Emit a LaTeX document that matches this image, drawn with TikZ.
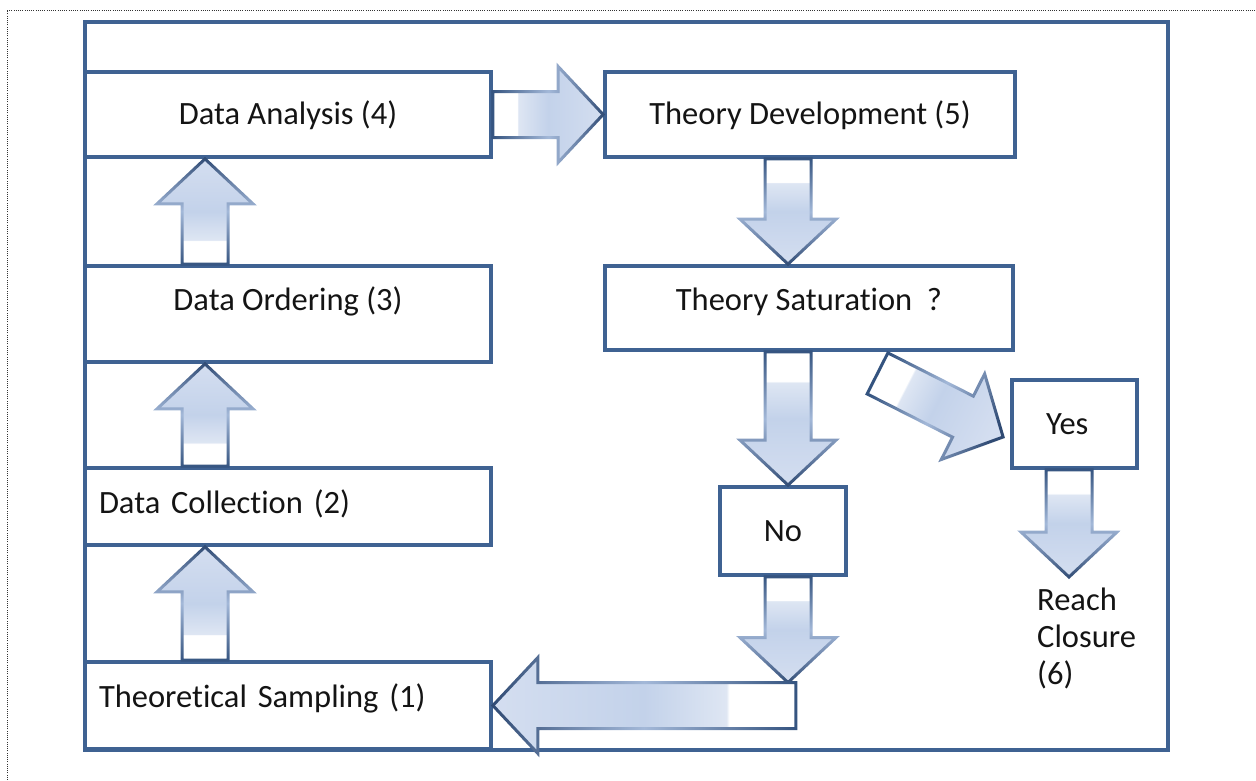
\documentclass[tikz,border=0pt]{standalone}
\usepackage{fontspec}
\setmainfont{Carlito}[Ligatures={NoCommon,NoContextual}, Contextuals=NoAlternate]
\usetikzlibrary{calc}

\definecolor{frameblue}{HTML}{3F6292}
\definecolor{fillA}{HTML}{DEE6F3}
\definecolor{fillB}{HTML}{C3D2EA}
\definecolor{fillC}{HTML}{D4DEF0}
\definecolor{edgeDark}{HTML}{34537F}
\definecolor{edgeLight}{HTML}{A3B8D8}
\definecolor{edgeMid}{HTML}{7088AD}
\definecolor{edgeTip}{HTML}{2F4A73}
\definecolor{textgray}{HTML}{141414}
\definecolor{dotgray}{HTML}{333333}

% gradients along a block arrow, tail (25bp) to tip (75bp)
\pgfdeclarehorizontalshading{arrowfill}{100bp}{color(0bp)=(white); color(25bp)=(white); color(36bp)=(white); color(36.5bp)=(fillA); color(50bp)=(fillB); color(75bp)=(fillC); color(100bp)=(fillC)}
\pgfdeclarehorizontalshading{arrowedge}{100bp}{color(0bp)=(edgeDark); color(25bp)=(edgeDark); color(50bp)=(edgeLight); color(62bp)=(edgeMid); color(75bp)=(edgeTip); color(100bp)=(edgeTip)}

% outline of a block arrow from #1 (tail) to #2 (tip):
% #3 shaft half width, #4 head half width, #5 head length,
% #6 tail offset, #7 tip offset (measured back from the tip)
\newcommand\apoly[7]{($(#1)!#6!(#2)!#3!90:(#2)$) -- ($(#2)!#5!(#1)!#3!-90:(#1)$) -- ($(#2)!#5!(#1)!#4!-90:(#1)$) -- ($(#2)!#7!(#1)$) -- ($(#2)!#5!(#1)!#4!90:(#1)$) -- ($(#2)!#5!(#1)!#3!90:(#1)$) -- ($(#1)!#6!(#2)!#3!-90:(#2)$) -- cycle}

% shaded block arrow with a shaded rim; #3 is its direction in degrees
\newcommand\blockarrow[3]{%
  \shade[shading=arrowfill, shading angle=#3] \apoly{#1}{#2}{23pt}{48pt}{45pt}{0pt}{0pt};
  \shade[shading=arrowedge, shading angle=#3, even odd rule]
    \apoly{#1}{#2}{24.5pt}{51.8pt}{46.5pt}{-1.5pt}{-2.05pt}
    \apoly{#1}{#2}{21.5pt}{44.2pt}{43.5pt}{1.5pt}{2.05pt};
}

\begin{document}
\begin{tikzpicture}[x=1pt, y=-1pt,
  font=\fontsize{32.5pt}{37pt}\selectfont,
  stage/.style={draw=frameblue, line width=3.8pt, inner sep=0pt,
    text=textgray, text height=20.5pt, text depth=0pt},
  leftstage/.style={text width=378pt, align=left, inner xsep=14pt, minimum width=406pt},
  dotline/.style={draw=dotgray, line width=1pt, dash pattern=on 1pt off 1.2pt}]

\useasboundingbox (0,0) rectangle (1256,780);

% page border
\draw[dotline] (7,780) -- (7,10) -- (1256,10);

% outer frame
\node[draw=frameblue, line width=3.8pt, inner sep=0pt,
  minimum width=1083pt, minimum height=728pt] (frame) at (626.5,386) {};

% stages
\node[stage, minimum width=406pt, minimum height=85pt] (analysis) at (288,114.5) {Data Analysis (4)};
\node[stage, minimum width=410pt, minimum height=85pt] (theorydev) at (810,114.5) {Theory Development (5)};
\node[stage, minimum width=406pt, minimum height=96pt, text depth=27pt] (ordering) at (288,314) {Data Ordering (3)};
\node[stage, minimum width=408pt, minimum height=84pt, text depth=16pt] (saturation) at (809,308) {Theory Saturation\ \ ?};
\node[stage, leftstage, minimum height=77pt, text depth=7pt] (collection) at (288,506.5) {Data Collection (2)};
\node[stage, leftstage, minimum height=87pt, text depth=16pt] (sampling) at (288,705.5) {Theoretical Sampling (1)};
\node[stage, minimum width=125pt, minimum height=88pt, text width=57pt, align=left, inner xsep=34pt] (yes) at (1074.5,424) {Yes};
\node[stage, minimum width=126pt, minimum height=88pt] (no) at (783,531) {No};
\node[anchor=base west, align=left, inner sep=0pt, text=textgray] (closure) at (1037,684) {Reach\\Closure\\(6)};

% arrow columns and free ends
\coordinate (colL) at (205,0);
\coordinate (colR) at (788,0);
\coordinate (colY) at (1069,0);
\coordinate (u1a) at (sampling.north -| colL);
\coordinate (u1b) at (collection.south -| colL);
\coordinate (u2a) at (collection.north -| colL);
\coordinate (u2b) at (ordering.south -| colL);
\coordinate (u3a) at (ordering.north -| colL);
\coordinate (u3b) at (analysis.south -| colL);
\coordinate (d1a) at (theorydev.south -| colR);
\coordinate (d1b) at (saturation.north -| colR);
\coordinate (d2a) at (saturation.south -| colR);
\coordinate (d2b) at (no.north -| colR);
\coordinate (d3a) at (no.south -| colR);
\coordinate (d3b) at ($(sampling.east -| colR)+(0,-23)$);
\coordinate (backtail) at ($(sampling.east)+(303,0)$);
\coordinate (y1a) at (yes.south -| colY);
\coordinate (y1b) at (1069,577);
\coordinate (yestail) at ($(saturation.south)+(68.5,21.5)$);
\coordinate (yestip) at ($(yes.west)+(-7,13)$);

% block arrows
\blockarrow{u1a}{u1b}{90}
\blockarrow{u2a}{u2b}{90}
\blockarrow{u3a}{u3b}{90}
\blockarrow{analysis.east}{theorydev.west}{0}
\blockarrow{d1a}{d1b}{-90}
\blockarrow{d2a}{d2b}{-90}
\blockarrow{d3a}{d3b}{-90}
\blockarrow{backtail}{sampling.east}{180}
\blockarrow{yestail}{yestip}{-27.2}
\blockarrow{y1a}{y1b}{-90}

\end{tikzpicture}
\end{document}
